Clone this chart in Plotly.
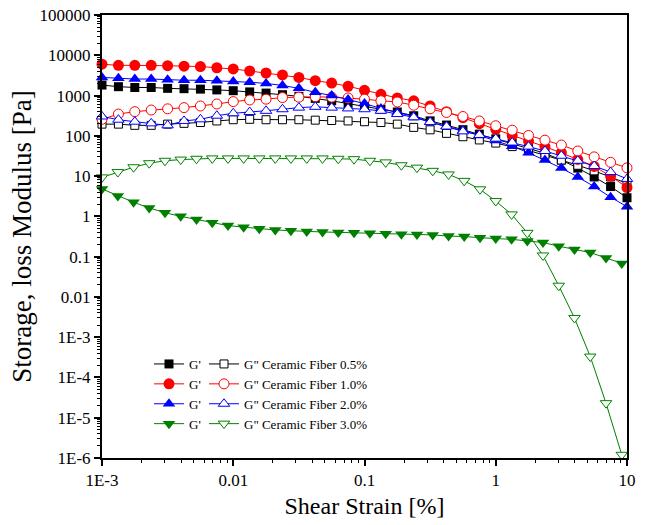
import plotly.graph_objects as go

# Strain grids (%)
strain_a = [0.001, 0.001334, 0.001778, 0.002371, 0.003162, 0.004217, 0.005623, 0.007499,
            0.01, 0.01334, 0.01778, 0.02371, 0.03162, 0.04217, 0.05623, 0.07499,
            0.1, 0.1334, 0.1778, 0.2371, 0.3162, 0.4217, 0.5623, 0.7499,
            1.0, 1.334, 1.778, 2.371, 3.162, 4.217, 5.623, 7.499, 10.0]
strain_b = [0.001, 0.00132, 0.00174, 0.00229, 0.00302, 0.00398, 0.00525, 0.00692, 0.00912,
            0.0120, 0.0158, 0.0209, 0.0275, 0.0363, 0.0479, 0.0631, 0.0832, 0.110, 0.145,
            0.191, 0.251, 0.331, 0.437, 0.575, 0.759, 1.0, 1.32, 1.74, 2.29, 3.02, 3.98,
            5.25, 6.92, 9.12]

# Ceramic fiber 0.5 %
g1_05 = [1820, 1660, 1585, 1585, 1510, 1480, 1445, 1380, 1320, 1230, 1150, 1050, 955, 851, 740,
         630, 540, 460, 390, 315, 235, 185, 142, 110, 84, 65, 50, 37, 25, 15.8, 9.5, 5.5, 2.9]
g2_05 = [195, 195, 182, 182, 195, 204, 214, 234, 251, 257, 251, 251, 251, 245, 240, 234, 224,
         214, 195, 162, 141, 115, 95, 79, 66, 54, 43, 33, 25, 18.6, 13.5, 9.5, 6.6]
# Ceramic fiber 1.0 %
g1_10 = [6000, 5620, 5620, 5620, 5500, 5370, 5250, 4900, 4570, 4070, 3630, 3240, 2820, 2340,
         2040, 1700, 1350, 1070, 870, 741, 550, 398, 282, 200, 145, 102, 74, 54, 38, 26, 17.4,
         10, 5.2]
g2_10 = [257, 347, 398, 437, 468, 501, 550, 617, 708, 776, 813, 891, 912, 933, 912, 871, 813,
         741, 692, 575, 468, 380, 302, 234, 178, 138, 102, 78, 59, 42, 30, 22, 16]
# Ceramic fiber 2.0 %
g1_20 = [2820, 2690, 2570, 2570, 2450, 2400, 2400, 2340, 2240, 2140, 2000, 1780, 1510, 1200,
         1000, 794, 631, 479, 380, 302, 219, 174, 135, 102, 76, 55, 38, 25, 15.8, 9.5, 5.5,
         3.0, 1.74]
g2_20 = [302, 251, 224, 204, 182, 234, 257, 316, 363, 389, 417, 457, 501, 525, 501, 479, 457,
         417, 347, 288, 219, 170, 129, 105, 85, 68, 54, 42, 32, 24, 17.8, 12.6, 8.5]
# Ceramic fiber 3.0 %
g1_30 = [4.8, 3.2, 2.24, 1.62, 1.23, 1.0, 0.83, 0.69, 0.59, 0.54, 0.49, 0.46, 0.44, 0.42, 0.41,
         0.40, 0.39, 0.38, 0.37, 0.36, 0.355, 0.347, 0.324, 0.316, 0.295, 0.282, 0.269, 0.245,
         0.224, 0.182, 0.151, 0.126, 0.093, 0.068]
g2_30 = [9.3, 12.6, 16.6, 20.9, 24, 25.7, 26.9, 27.5, 27.5, 27.5, 27.5, 27.5, 27.5, 27.5, 27.5,
         26.9, 26.3, 24, 21.9, 18.6, 16.2, 13.5, 11, 7.6, 4.7, 2.4, 1.12, 0.39, 0.107, 0.019,
         0.003, 3.3e-4, 2.3e-5, 1.2e-6]

y_tickvals = [1e5, 1e4, 1e3, 1e2, 10, 1, 0.1, 0.01, 1e-3, 1e-4, 1e-5, 1e-6]
y_ticktext = ["100000", "10000", "1000", "100", "10", "1", "0.1", "0.01", "1E-3", "1E-4", "1E-5", "1E-6"]
x_tickvals = [1e-3, 0.01, 0.1, 1, 10]
x_ticktext = ["1E-3", "0.01", "0.1", "1", "10"]

FONT = "Liberation Serif"

series = [
    ("0.5%", "black", "square", 9, strain_a, g1_05, g2_05),
    ("1.0%", "#ff0000", "circle", 11, strain_a, g1_10, g2_10),
    ("2.0%", "#0000ff", "triangle-up", 11, strain_a, g1_20, g2_20),
    ("3.0%", "#008000", "triangle-down", 11, strain_b, g1_30, g2_30),
]

fig = go.Figure()
for name, col, sym, size, xs, gp, gpp in series:
    fig.add_trace(go.Scatter(
        x=xs, y=gp, mode="lines+markers", name="G'", legend="legend",
        line=dict(color=col, width=1),
        marker=dict(symbol=sym, size=size, color=col, line=dict(color=col, width=0)),
        cliponaxis=False))
    fig.add_trace(go.Scatter(
        x=xs, y=gpp, mode="lines+markers", name='G" Ceramic Fiber ' + name, legend="legend2",
        line=dict(color=col, width=1),
        marker=dict(symbol=sym, size=size - 1, color="white", line=dict(color=col, width=1)),
        cliponaxis=False))

W, H = 646, 525
L, R, T, B = 102, 19, 15, 67
pw, ph = W - L - R, H - T - B

def px_x(p):
    return (p - L) / pw

def px_y(p):
    return (H - B - p) / ph

legend_common = dict(
    font=dict(family=FONT, size=13, color="black"),
    bgcolor="rgba(0,0,0,0)", borderwidth=0,
    xanchor="left", yanchor="top", tracegroupgap=0,
    itemwidth=30,
)

fig.update_layout(
    width=W, height=H,
    margin=dict(l=L, r=R, t=T, b=B, autoexpand=False),
    paper_bgcolor="white", plot_bgcolor="white",
    font=dict(family=FONT, color="black"),
    showlegend=True,
    legend=dict(x=px_x(149), y=px_y(349), **legend_common),
    legend2=dict(x=px_x(204), y=px_y(349), **legend_common),
    xaxis=dict(
        type="log", range=[-3, 1],
        tickvals=x_tickvals, ticktext=x_ticktext,
        ticks="outside", ticklen=6, tickwidth=1.5, tickcolor="black",
        minor=dict(ticks="outside", ticklen=3, tickwidth=1, tickcolor="black",
                   dtick="D1", showgrid=False),
        showline=True, linecolor="black", linewidth=2, mirror=True,
        showgrid=False, zeroline=False,
        tickfont=dict(family=FONT, size=17, color="black"),
        title=dict(text="Shear Strain [%]", font=dict(family=FONT, size=24, color="black"),
                   standoff=8),
    ),
    yaxis=dict(
        type="log", range=[-6, 5],
        tickvals=y_tickvals, ticktext=y_ticktext,
        ticks="outside", ticklen=6, tickwidth=1.5, tickcolor="black",
        minor=dict(ticks="outside", ticklen=3, tickwidth=1, tickcolor="black",
                   dtick="D1", showgrid=False),
        showline=True, linecolor="black", linewidth=2, mirror=True,
        showgrid=False, zeroline=False,
        tickfont=dict(family=FONT, size=17, color="black"),
        title=dict(text="Storage, loss Modulus [Pa]", font=dict(family=FONT, size=27, color="black"),
                   standoff=0),
    ),
)

fig.write_html("out.html")
